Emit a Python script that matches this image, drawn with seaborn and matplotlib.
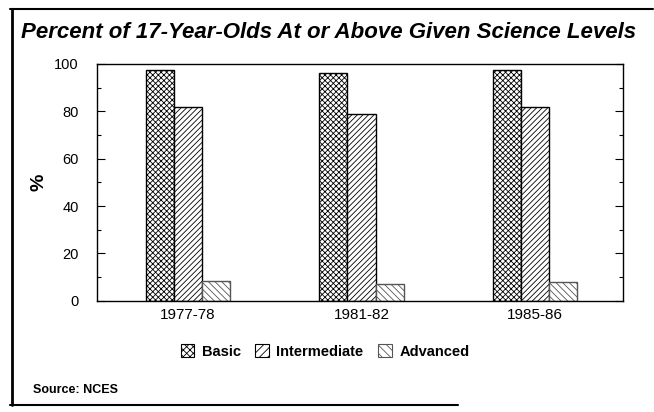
import matplotlib.pyplot as plt
import matplotlib.lines as mlines
import seaborn as sns
import pandas as pd

years = ['1977-78', '1981-82', '1985-86']
levels = ['Basic', 'Intermediate', 'Advanced']
basic = [97.5, 96.0, 97.4]
intermediate = [81.7, 78.8, 81.9]
advanced = [8.2, 7.2, 7.8]
hatches = ['xxxxxx', '//////', '\\\\\\\\\\']

sns.set_style('white')
plt.rcParams['font.family'] = ['Liberation Sans', 'DejaVu Sans']
plt.rcParams['hatch.linewidth'] = 0.6
for k in ['text.color', 'axes.labelcolor', 'xtick.color', 'ytick.color']:
    plt.rcParams[k] = 'black'

df = pd.DataFrame({
    'year': years * 3,
    'level': [l for l in levels for _ in years],
    'pct': basic + intermediate + advanced,
})

fig = plt.figure(figsize=(6.54, 4.12), dpi=100)
ax = fig.add_axes([0.148, 0.27, 0.805, 0.575])

sns.barplot(data=df, x='year', y='pct', hue='level', hue_order=levels,
            palette=['white'] * 3, edgecolor='black', linewidth=1.0,
            width=0.486, gap=0, ax=ax, legend=False)

for cont, h in zip(ax.containers, hatches):
    for bar in cont:
        bar.set_hatch(h)
# lighter hatch for the Advanced bars
for bar in ax.containers[2]:
    bar.set_edgecolor('#555555')

ax.set_xlim(-0.527, 2.51)
ax.set_ylim(0, 100)
ax.set_yticks([0, 20, 40, 60, 80, 100])
ax.set_yticks(range(10, 100, 20), minor=True)
ax.tick_params(axis='y', which='both', direction='in', left=True, right=True,
               labelsize=10.5, pad=13)
ax.tick_params(axis='y', which='major', length=6, width=0.8)
ax.tick_params(axis='y', which='minor', length=3, width=0.8)
ax.tick_params(axis='x', length=0, labelsize=11, pad=5)
for sp in ax.spines.values():
    sp.set_visible(True)
    sp.set_color('black')
    sp.set_linewidth(1.0)
ax.set_xlabel('')
ax.set_ylabel('%', fontsize=14, fontweight='bold', labelpad=5)

fig.text(0.502, 0.92, 'Percent of 17-Year-Olds At or Above Given Science Levels',
         ha='center', va='center', fontsize=16, fontweight='bold', style='italic')

handles = [plt.Rectangle((0, 0), 1, 1, facecolor='white', edgecolor=c,
                         linewidth=0.8, hatch=h)
           for h, c in zip(['xxxxx', '////', '\\\\\\\\'], ['black', 'black', '#555555'])]
fig.legend(handles, levels, loc='center', bbox_to_anchor=(0.497, 0.147), ncol=3,
           frameon=False, handlelength=0.95, handleheight=0.95, handletextpad=0.5,
           columnspacing=1.0, prop={'weight': 'bold', 'size': 10.5})

fig.text(0.05, 0.053, 'Source: NCES', ha='left', va='center', fontsize=9,
         fontweight='bold')

# outer frame
fig.add_artist(mlines.Line2D([0.015, 0.998], [0.978, 0.978], color='black', lw=1.5))
fig.add_artist(mlines.Line2D([0.018, 0.018], [0.978, 0.017], color='black', lw=2.0))
fig.add_artist(mlines.Line2D([0.015, 0.70], [0.017, 0.017], color='black', lw=1.5))

fig.savefig('out.png', dpi=100)
